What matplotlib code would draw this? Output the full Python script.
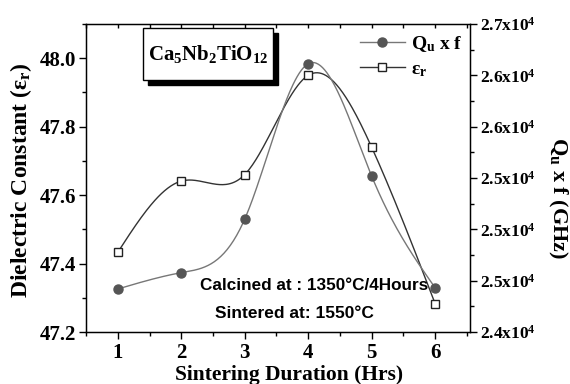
import numpy as np
import matplotlib
matplotlib.use("Agg")
import matplotlib.pyplot as plt
from matplotlib.ticker import FixedLocator, MultipleLocator
from matplotlib.patches import Rectangle
from matplotlib.lines import Line2D

plt.rcParams['font.family'] = ['Liberation Serif', 'DejaVu Serif']
plt.rcParams['font.weight'] = 'bold'
plt.rcParams['mathtext.fontset'] = 'custom'
plt.rcParams['mathtext.rm'] = 'Liberation Serif:bold'
plt.rcParams['mathtext.it'] = 'Liberation Serif:bold'
plt.rcParams['mathtext.bf'] = 'Liberation Serif:bold'

# Data
duration = [1, 2, 3, 4, 5, 6]
qf = [24419, 24578, 25100, 26613, 25519, 24431]
eps_r = [47.433, 47.641, 47.66, 47.95, 47.74, 47.283]
right_ticks = [24000, 24500, 25000, 25500, 26000, 26500, 27000]
right_labels = ["2.4", "2.5", "2.5", "2.5", "2.6", "2.6", "2.7"]


def natural_spline(x, y, n=300):
    x = np.asarray(x, float); y = np.asarray(y, float)
    m = len(x); h = np.diff(x)
    A = np.zeros((m, m)); b = np.zeros(m)
    A[0, 0] = 1; A[-1, -1] = 1
    for i in range(1, m - 1):
        A[i, i - 1] = h[i - 1]; A[i, i] = 2 * (h[i - 1] + h[i]); A[i, i + 1] = h[i]
        b[i] = 6 * ((y[i + 1] - y[i]) / h[i] - (y[i] - y[i - 1]) / h[i - 1])
    M = np.linalg.solve(A, b)
    xs = np.linspace(x[0], x[-1], n)
    idx = np.clip(np.searchsorted(x, xs) - 1, 0, m - 2)
    x0 = x[idx]; x1 = x[idx + 1]; hh = x1 - x0
    ys = (M[idx] * (x1 - xs) ** 3 / (6 * hh) + M[idx + 1] * (xs - x0) ** 3 / (6 * hh)
          + (y[idx] / hh - M[idx] * hh / 6) * (x1 - xs)
          + (y[idx + 1] / hh - M[idx + 1] * hh / 6) * (xs - x0))
    return xs, ys


fig = plt.figure(figsize=(5.7, 3.84), dpi=100)
ax = fig.add_axes([0.151, 0.1354, 0.6736, 0.8021])
ax2 = ax.twinx()

# epsilon_r on left
xs, ys = natural_spline(duration, eps_r)
ax.plot(xs, ys, color='#333333', lw=1.0, zorder=2)
ax.plot(duration, eps_r, ls='none', marker='s', ms=6, mfc='white', mec='#222222', mew=1.0, zorder=3)

# Qf on right
xs2, ys2 = natural_spline(duration, qf)
ax2.plot(xs2, ys2, color='#777777', lw=1.0, zorder=2)
ax2.plot(duration, qf, ls='none', marker='o', ms=6.5, mfc='#555555', mec='#555555', zorder=3)

ax.set_xlim(0.5, 6.55)
ax.set_ylim(47.2, 48.1)
ax2.set_ylim(24000, 27000)

ax.xaxis.set_major_locator(FixedLocator(duration))
ax.xaxis.set_minor_locator(MultipleLocator(0.5))
ax.yaxis.set_major_locator(MultipleLocator(0.2))
ax.yaxis.set_minor_locator(MultipleLocator(0.1))
ax2.yaxis.set_major_locator(FixedLocator(right_ticks))
ax2.yaxis.set_minor_locator(MultipleLocator(250))
ax2.set_yticklabels([f"{l}x10$^{{4}}$" for l in right_labels])

ax.tick_params(axis='x', which='both', direction='out', top=True, labelsize=15, pad=3)
ax.tick_params(axis='x', which='major', length=5, width=1)
ax.tick_params(axis='x', which='minor', length=3, width=1)
ax.tick_params(axis='y', which='major', length=5, width=1, direction='out', labelsize=15, pad=2)
ax.tick_params(axis='y', which='minor', length=3, width=1, direction='out')
ax2.tick_params(axis='y', which='major', length=5, width=1, direction='out', labelsize=12.5, pad=2)
ax2.tick_params(axis='y', which='minor', length=3, width=1, direction='out')
# top ticks point inward
for t in ax.xaxis.get_major_ticks() + ax.xaxis.get_minor_ticks():
    t.tick2line.set_marker(3)
    t.tick2line.set_markersize(3)

for s in ax.spines.values():
    s.set_linewidth(1.0)

fig.text(289 / 570, 1 - 380 / 384, "Sintering Duration (Hrs)", fontsize=15.5, fontweight='bold',
         ha='center', va='baseline')
fig.text(21 / 570, 1 - 180 / 384, "Dielectric Constant (ε$_\\mathrm{r}$)", fontsize=17,
         fontweight='bold', rotation=90, ha='center', va='center')
fig.text(558 / 570, 1 - 198 / 384, "Q$_\\mathrm{u}$ x f (GHz)", fontsize=16,
         fontweight='bold', rotation=-90, ha='center', va='center')

# Legend
h1 = Line2D([], [], color='#777777', lw=1.0, marker='o', ms=6.5, mfc='#555555', mec='#555555')
h2 = Line2D([], [], color='#333333', lw=1.0, marker='s', ms=6, mfc='white', mec='#222222')
ax2.legend([h1, h2], ["Q$_\\mathrm{u}$ x f", "ε$_\\mathrm{r}$"], loc='upper right',
           bbox_to_anchor=(1.005, 1.0), frameon=False, fontsize=14, handlelength=2.3,
           handletextpad=0.3, labelspacing=0.35, borderaxespad=0.1)

# Compound box with shadow
fx0, fy0, fw, fh = 143 / 570, 1 - 80 / 384, 130 / 570, 52 / 384
fig.patches.append(Rectangle((fx0 + 5 / 570, fy0 - 5 / 384), fw, fh, transform=fig.transFigure,
                             facecolor='black', edgecolor='black', zorder=5))
fig.patches.append(Rectangle((fx0, fy0), fw, fh, transform=fig.transFigure,
                             facecolor='white', edgecolor='black', lw=1.0, zorder=6))
fig.text(fx0 + fw / 2, fy0 + fh / 2, "Ca$_\\mathrm{5}$Nb$_\\mathrm{2}$TiO$_\\mathrm{12}$",
         ha='center', va='center', fontsize=15, fontweight='bold', zorder=7)

fig.text(200 / 570, 1 - 286 / 384, "Calcined at : 1350°C/4Hours",
         family=['Liberation Sans'], fontsize=12.3, fontweight='bold', ha='left', va='center')
fig.text(215 / 570, 1 - 313 / 384, "Sintered at: 1550°C",
         family=['Liberation Sans'], fontsize=12.5, fontweight='bold', ha='left', va='center')

fig.savefig("out.png", dpi=100)
